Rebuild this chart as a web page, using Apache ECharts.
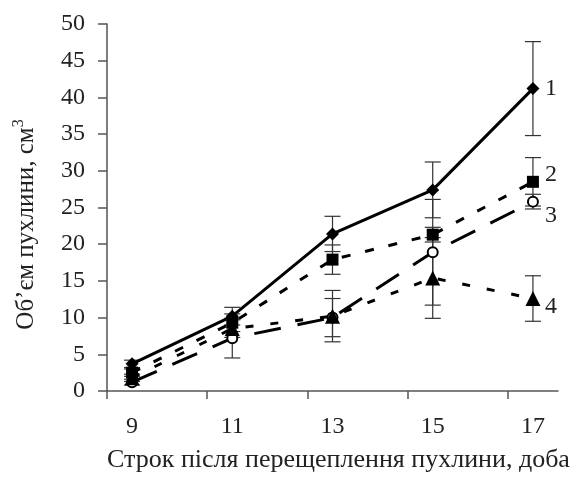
<!DOCTYPE html>
<html>
<head>
<meta charset="utf-8">
<script src="https://cdn.jsdelivr.net/npm/echarts@6/dist/echarts.min.js"></script>
<style>
  html, body { margin: 0; padding: 0; background: #fff; }
  #chart { width: 578px; height: 478px; }
</style>
</head>
<body>
<div id="chart"></div>
<script>
// дні після перещеплення
var days = [9, 11, 13, 15, 17]
var yTicks = [0, 5, 10, 15, 20, 25, 30, 35, 40, 45, 50]

// середні значення об'єму пухлини, см3
var vol1 = [3.7, 10.2, 21.4, 27.4, 41.2]
var vol2 = [2.5, 9.3, 17.9, 21.3, 28.5]
var vol3 = [1.2, 7.2, 10.0, 18.9, 25.8]
var vol4 = [1.8, 8.5, 10.2, 15.4, 12.6]

// похибки (±)
var err1 = [0.5, 1.2, 2.4, 3.8, 6.4]
var err2 = [0.5, 1.2, 2.0, 1.0, 3.3]
var err3 = [0.4, 2.7, 2.6, 7.2, 1.0]
var err4 = [0.5, 1.2, 3.5, 5.5, 3.1]

var seriesNames = ['1', '2', '3', '4']

var font = '"Liberation Serif", "DejaVu Serif", serif'

function pairs(vals) {
  return days.map(function(d, i) { return [d, vals[i]] })
}
function bars(vals, errs) {
  return days.map(function(d, i) { return [d, vals[i] - errs[i], vals[i] + errs[i]] })
}

function errorBar(params, api) {
  var x = api.value(0)
  var lo = api.coord([x, api.value(1)])
  var hi = api.coord([x, api.value(2)])
  var w = 8
  var st = { stroke: '#333', lineWidth: 1.2 }
  return {
    type: 'group',
    children: [
      { type: 'line', shape: { x1: hi[0], y1: hi[1], x2: lo[0], y2: lo[1] }, style: st },
      { type: 'line', shape: { x1: hi[0] - w, y1: hi[1], x2: hi[0] + w, y2: hi[1] }, style: st },
      { type: 'line', shape: { x1: lo[0] - w, y1: lo[1], x2: lo[0] + w, y2: lo[1] }, style: st }
    ]
  }
}

function lineSeries(name, vals, symbol, size, dash, fill, labelOffset) {
  return {
    name: name,
    type: 'line',
    data: pairs(vals),
    symbol: symbol,
    symbolSize: size,
    showAllSymbol: true,
    z: 3,
    lineStyle: { color: '#000', width: 3, type: dash },
    itemStyle: { color: fill, borderColor: '#000', borderWidth: fill === '#fff' ? 2 : 0 },
    endLabel: {
      show: true,
      formatter: name,
      color: '#222',
      fontFamily: font,
      fontSize: 24,
      distance: 12,
      offset: labelOffset
    }
  }
}

function errSeries(vals, errs) {
  return {
    type: 'custom',
    renderItem: errorBar,
    data: bars(vals, errs),
    z: 1,
    silent: true
  }
}

const myChart = echarts.init(document.getElementById('chart'))

var option = {
  backgroundColor: '#fff',
  animation: false,
  grid: {
    left: 107,
    right: 20,
    top: 24,
    bottom: 83
  },
  xAxis: {
    type: 'value',
    min: 8.5,
    max: 17.5,
    name: 'Строк після перещеплення пухлини, доба',
    nameLocation: 'middle',
    nameGap: 56,
    nameTextStyle: { color: '#222', fontFamily: font, fontSize: 26, padding: [0, 0, 0, 12] },
    splitLine: { show: false },
    axisLine: { lineStyle: { color: '#555', width: 1.5 } },
    axisTick: {
      show: true,
      length: 8,
      customValues: [8.5, 10.5, 12.5, 14.5, 16.5],
      lineStyle: { color: '#555', width: 1.5 }
    },
    axisLabel: {
      customValues: days,
      color: '#222',
      fontFamily: font,
      fontSize: 24,
      margin: 24
    }
  },
  yAxis: {
    type: 'value',
    min: 0,
    max: 50,
    interval: 5,
    name: 'Об\u2019єм пухлини, см{sup|3}',
    nameLocation: 'middle',
    nameGap: 66,
    nameTextStyle: {
      color: '#222',
      fontFamily: font,
      fontSize: 25,
      padding: [0, 34, 0, 0],
      rich: {
        sup: { fontFamily: font, fontSize: 16, verticalAlign: 'top', padding: [0, 0, 14, 0] }
      }
    },
    splitLine: { show: false },
    axisLine: { show: true, lineStyle: { color: '#555', width: 1.5 } },
    axisTick: { show: true, length: 9, lineStyle: { color: '#555', width: 1.5 } },
    axisLabel: {
      color: '#222',
      fontFamily: font,
      fontSize: 24,
      margin: 22,
      formatter: function(v) { return yTicks.indexOf(v) >= 0 ? String(v) : '' }
    }
  },
  series: [
    errSeries(vol1, err1),
    errSeries(vol2, err2),
    errSeries(vol3, err3),
    errSeries(vol4, err4),
    lineSeries(seriesNames[0], vol1, 'diamond', 13, 'solid', '#000', [0, 0]),
    lineSeries(seriesNames[1], vol2, 'rect', 12, [9, 15], '#000', [0, -7]),
    lineSeries(seriesNames[2], vol3, 'circle', 10, [27, 17], '#fff', [0, 14]),
    lineSeries(seriesNames[3], vol4, 'triangle', 15, [8, 17], '#000', [0, 8])
  ]
}

myChart.setOption(option)
</script>
</body>
</html>
